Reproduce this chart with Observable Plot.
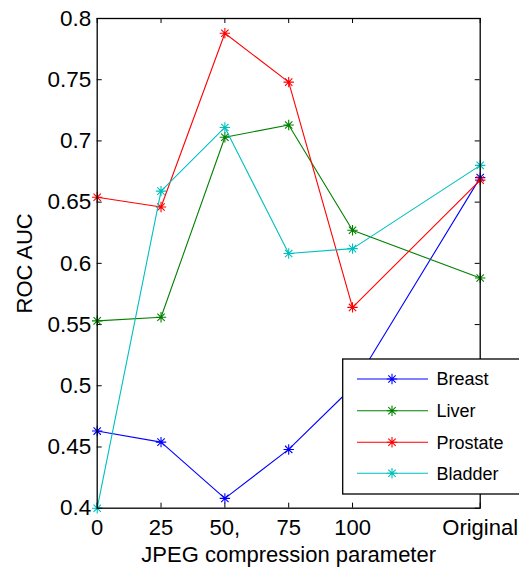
<!DOCTYPE html>
<html>
<head>
<meta charset="utf-8">
<script src="https://cdn.jsdelivr.net/npm/d3@7"></script>
<script src="https://cdn.jsdelivr.net/npm/@observablehq/plot@0.6"></script>
<style>
  html, body { margin: 0; padding: 0; background: #fff; }
  #chart { position: relative; width: 519px; height: 569px; overflow: hidden; }
  svg { font-family: "Liberation Sans", Arial, Helvetica, sans-serif; }
</style>
</head>
<body>
<div id="chart"></div>
<script>
// ---- data ----
const categories = ["0", "25", "50,", "75", "100", "Original"];
const xPositions = [0, 1, 2, 3, 4, 6];
const breast   = [0.463, 0.454, 0.408, 0.448, 0.499, 0.670];
const liver    = [0.553, 0.556, 0.703, 0.713, 0.627, 0.588];
const prostate = [0.654, 0.646, 0.788, 0.748, 0.564, 0.668];
const bladder  = [0.400, 0.659, 0.711, 0.608, 0.612, 0.680];
const seriesNames = ["Breast", "Liver", "Prostate", "Bladder"];
const seriesColors = ["#0000ff", "#008000", "#ff0000", "#00bfbf"];
const yTicks = [0.4, 0.45, 0.5, 0.55, 0.6, 0.65, 0.7, 0.75, 0.8];
const xLabel = "JPEG compression parameter";
const yLabel = "ROC AUC";

// ---- build long table ----
const seriesValues = [breast, liver, prostate, bladder];
const rows = [];
seriesNames.forEach((name, s) => {
  seriesValues[s].forEach((v, i) => rows.push({series: name, x: xPositions[i], y: v}));
});

// MATLAB-style asterisk (+ and x combined)
const asterisk = {
  draw(ctx, size) {
    const r = Math.sqrt(size / Math.PI);
    const d = r * Math.SQRT1_2;
    ctx.moveTo(0, -r); ctx.lineTo(0, r);
    ctx.moveTo(-r, 0); ctx.lineTo(r, 0);
    ctx.moveTo(-d, -d); ctx.lineTo(d, d);
    ctx.moveTo(-d, d); ctx.lineTo(d, -d);
  }
};

const W = 519, H = 569;
const mL = 96.7, mR = 39.3, mT = 18, mB = 61.3;
const plotW = W - mL - mR, plotH = H - mT - mB;
const tickLen = 5;
const fmt = d => String(+d.toFixed(2));
const FONT = '"Liberation Sans", Arial, Helvetica, sans-serif';

const seriesMarks = [];
seriesNames.forEach((name, s) => {
  const data = rows.filter(r => r.series === name);
  seriesMarks.push(Plot.line(data, {x: "x", y: "y", stroke: seriesColors[s], strokeWidth: 1.1}));
  seriesMarks.push(Plot.dot(data, {x: "x", y: "y", stroke: seriesColors[s], symbol: asterisk, r: 5.2, strokeWidth: 1.1}));
});

const svg = Plot.plot({
  width: W, height: H,
  marginLeft: mL, marginRight: mR, marginTop: mT, marginBottom: mB,
  style: {fontFamily: FONT, background: "#fff", overflow: "visible"},
  x: {domain: [0, 6]},
  y: {domain: [0.4, 0.8]},
  marks: [
    Plot.axisX({ticks: xPositions, tickFormat: (d) => categories[xPositions.indexOf(d)], tickSize: 0, tickPadding: 11.5, fontSize: 22, color: "#000", label: null}),
    Plot.axisY({ticks: yTicks, tickFormat: fmt, tickSize: 0, tickPadding: 6, fontSize: 22.5, color: "#000", label: null}),
    // inward ticks bottom / top
    Plot.tickX(xPositions, {x: d => d, insetTop: plotH - tickLen, stroke: "#000", strokeWidth: 1}),
    Plot.tickX(xPositions, {x: d => d, insetBottom: plotH - tickLen, stroke: "#000", strokeWidth: 1}),
    // inward ticks left / right
    Plot.tickY(yTicks, {y: d => d, insetRight: plotW - tickLen, stroke: "#000", strokeWidth: 1}),
    Plot.tickY(yTicks, {y: d => d, insetLeft: plotW - tickLen, stroke: "#000", strokeWidth: 1}),
    ...seriesMarks,
    Plot.frame({stroke: "#000", strokeWidth: 1.3}),
    Plot.text([xLabel], {text: d => d, frameAnchor: "bottom", textAnchor: "middle", dy: 54, fontSize: 22, fill: "#000", lineAnchor: "bottom"}),
    Plot.text([yLabel], {text: d => d, frameAnchor: "left", textAnchor: "middle", dx: -72.5, rotate: -90, fontSize: 22, fill: "#000"})
  ]
});

// ---- legend (drawn inside the same svg) ----
const g = d3.select(svg).append("g").attr("text-anchor", "start");
const lx = 342.7, ly = 359, lw = 190, lh = 135;
g.append("rect").attr("x", lx).attr("y", ly).attr("width", lw).attr("height", lh)
  .attr("fill", "#fff").attr("stroke", "#000").attr("stroke-width", 1.3);
const rowY = [379, 410.7, 442.3, 473.3];
const symPath = d3.symbol(asterisk, Math.PI * 5.2 * 5.2)();
seriesNames.forEach((name, s) => {
  const y = rowY[s];
  g.append("line").attr("x1", 357).attr("x2", 428).attr("y1", y).attr("y2", y)
    .attr("stroke", seriesColors[s]).attr("stroke-width", 1.1);
  g.append("path").attr("d", symPath).attr("transform", `translate(392,${y})`)
    .attr("fill", "none").attr("stroke", seriesColors[s]).attr("stroke-width", 1.1);
  g.append("text").attr("x", 436.5).attr("y", y).attr("dy", "0.35em")
    .attr("text-anchor", "start").attr("font-size", 18).attr("font-family", FONT)
    .attr("fill", "#000").text(name);
});

document.getElementById("chart").appendChild(svg);
</script>
</body>
</html>
